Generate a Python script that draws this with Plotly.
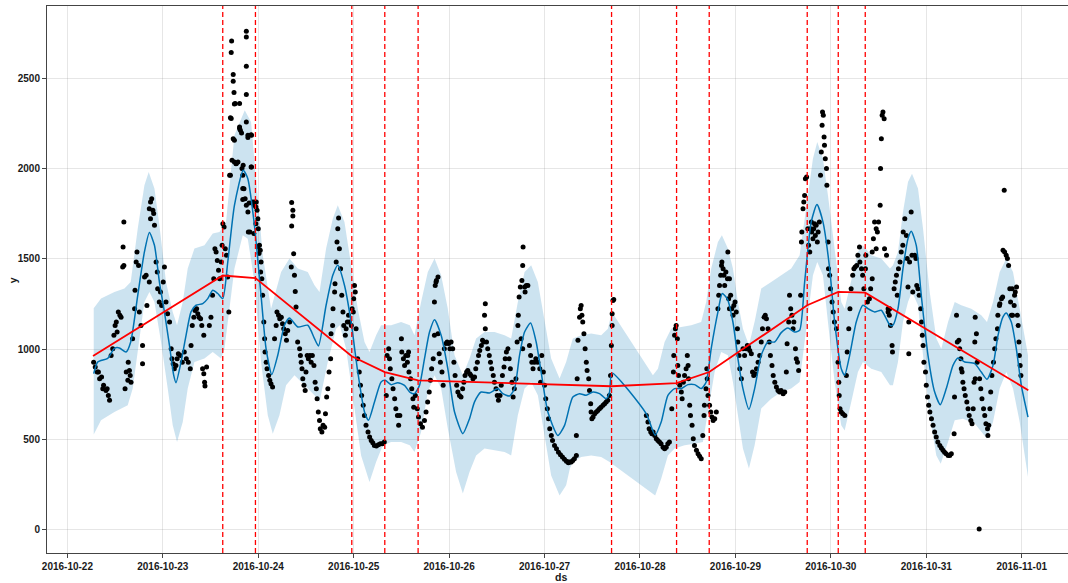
import pandas as pd
import plotly.graph_objects as go

BASE = pd.Timestamp("2016-10-22 00:00")

# ---- forecast (hours after 2016-10-22 00:00) ----
yhat_h = [6.62,7.62,10.14,11.82,13.08,14.74,15.92,17.69,19.37,20.63,
          21.89,23.14,24.40,25.66,26.74,27.32,28.58,29.84,31.09,32.35,
          34.04,35.30,36.55,37.81,39.07,40.33,42.01,44.23,45.36,47.04,
          48.70,49.96,51.40,52.90,54.59,55.85,57.94,60.45,62.14,63.14,
          65.06,66.74,68.00,69.68,71.34,73.03,74.72,75.72,77.23,78.89,
          79.90,81.41,83.09,84.78,86.11,87.29,88.55,89.81,91.07,92.33,
          93.99,95.67,97.36,99.45,101.13,102.39,104.05,106.16,108.25,109.51,
          111.19,112.45,113.71,114.97,116.48,117.89,119.14,120.83,123.35,125.03,
          126.36,127.12,128.80,130.46,132.15,133.83,135.49,136.35,136.93,145.56,
          147.82,149.33,151.02,152.70,154.36,156.05,157.73,159.39,160.65,161.91,
          163.60,164.68,165.94,167.37,168.63,169.89,171.40,172.83,174.49,176.17,
          177.86,179.52,181.20,182.89,184.15,185.41,187.07,188.50,190.01,191.70,
          192.95,194.61,195.47,196.73,198.39,200.07,201.33,203.02,204.68,205.93,
          206.87,207.62,208.88,210.14,211.40,212.23,213.48,214.74,216.43,218.11,
          219.52,221.03,222.72,223.97,225.66,228.17,229.83,231.27,232.78,234.04,
          235.29,236.12,237.38,238.64,239.90,241.58]
yhat = [863,928,948,1004,1006,983,1039,1298,1539,1647,
        1576,1372,1206,1021,854,813,928,1076,1206,1243,
        1252,1280,1326,1308,1280,1483,1798,1993,1947,1687,
        1298,1002,858,965,1132,1172,1122,1132,1058,1017,
        1243,1409,1465,1354,1150,872,650,604,706,817,
        826,802,813,798,761,752,798,947,1094,1163,
        1076,891,650,530,613,706,761,756,780,752,
        739,780,965,1094,1144,1039,872,650,520,576,
        687,733,752,743,761,752,724,761,867,641,
        521,594,743,780,780,802,802,780,817,1002,
        1206,1308,1280,1150,947,780,665,780,965,1039,
        1039,1091,1117,1094,1104,1372,1706,1802,1706,1447,
        1150,891,854,965,1150,1243,1224,1206,1215,1169,
        1132,1132,1224,1447,1613,1654,1576,1298,965,761,
        691,780,909,950,928,919,872,832,909,1076,
        1178,1200,1150,1002,798,622]

upper_h = [6.62,8.45,11.82,14.34,15.92,17.69,19.37,20.45,21.89,23.14,
           24.80,26.49,27.57,29.01,30.26,31.95,34.47,36.55,38.24,39.90,
           42.01,44.60,46.19,47.45,49.13,51.22,53.74,55.85,57.94,60.45,
           62.14,63.40,65.06,66.74,68.00,69.68,71.34,73.03,74.72,75.97,
           77.64,78.89,81.41,83.92,86.11,87.29,88.95,90.64,92.33,93.99,
           95.67,97.36,99.45,101.13,102.79,104.90,107.42,109.94,111.60,113.28,
           114.97,116.63,118.31,120.00,121.66,123.77,125.43,126.36,127.12,129.21,
           131.72,134.24,135.93,136.93,147.25,148.51,150.19,151.85,154.36,156.88,
           159.39,160.65,161.91,163.60,164.60,166.11,167.37,168.63,169.89,171.40,
           172.91,174.49,177.00,179.52,182.03,184.15,185.81,187.50,188.58,190.01,
           191.27,192.95,194.61,195.47,197.13,198.81,200.07,202.16,204.68,206.87,
           207.62,208.88,210.14,211.40,212.41,213.92,215.18,216.86,218.52,219.78,
           221.47,223.15,224.81,227.32,229.83,231.27,232.78,234.46,236.12,237.81,
           239.49,241.58]
upper = [1226,1280,1317,1336,1372,1669,1909,1983,1891,1687,
         1372,1206,1132,1261,1447,1558,1576,1641,1650,1706,
         2187,2326,2261,1947,1521,1224,1428,1502,1447,1428,
         1354,1317,1558,1724,1798,1706,1465,1224,1039,983,
         1076,1132,1132,1150,1132,1076,1261,1428,1502,1409,
         1224,965,854,947,1058,1094,1094,1076,1058,1261,
         1428,1465,1372,1150,947,836,928,1002,1058,1076,
         1086,1076,1113,1206,854,891,1039,1113,1122,1132,
         1150,1261,1447,1594,1632,1558,1447,1261,1113,1021,
         1159,1336,1372,1409,1447,1521,1798,2058,2150,2058,
         1854,1539,1261,1224,1372,1539,1576,1521,1502,1447,
         1465,1539,1761,1928,1974,1891,1669,1317,1058,1002,
         1150,1261,1243,1224,1187,1150,1261,1428,1502,1428,
         1224,965]

lower_h = [6.62,8.45,11.82,15.17,16.43,17.69,19.37,20.63,21.89,23.55,
           25.23,26.49,27.57,29.01,30.26,31.95,34.47,36.55,38.64,39.50,
           40.75,42.01,44.10,45.36,47.04,48.70,50.39,51.65,53.33,54.99,
           57.11,59.62,62.14,63.40,65.48,67.57,68.50,70.09,71.77,73.86,
           75.97,77.64,79.32,81.41,83.92,86.11,87.29,88.95,90.64,92.33,
           93.99,95.67,97.76,99.45,101.13,102.79,104.90,107.42,109.94,111.60,
           113.28,114.97,116.63,118.31,120.00,121.66,123.77,125.43,126.36,127.12,
           129.21,131.72,134.24,136.35,147.82,149.33,151.02,152.70,155.22,157.73,
           159.82,161.08,162.77,164.43,166.11,167.37,168.63,169.89,171.40,172.83,
           174.49,177.00,179.52,182.03,184.15,185.81,187.50,188.58,190.01,191.27,
           192.95,194.61,195.47,197.13,198.81,200.07,202.16,204.68,206.87,207.62,
           208.88,210.14,211.40,212.41,213.92,215.18,216.86,218.52,219.63,221.47,
           223.15,225.23,228.17,229.83,231.27,232.78,234.46,236.12,237.81,239.49,
           241.58]
lower = [525,604,650,687,780,1002,1261,1317,1261,1039,
         780,576,483,594,780,928,947,983,947,1002,
         1224,1447,1632,1613,1372,928,632,530,632,798,
         854,798,743,706,928,1113,1132,1002,743,409,
         261,372,465,483,483,465,428,539,761,854,
         780,558,317,197,317,409,447,437,428,409,
         632,780,817,743,521,298,187,243,336,372,
         400,409,400,372,187,280,409,447,465,474,
         483,650,872,983,965,817,632,447,336,465,
         669,724,761,780,817,1113,1409,1483,1409,1150,
         817,576,548,706,872,928,891,872,798,798,
         928,1150,1261,1317,1243,965,632,409,363,483,
         604,613,586,539,502,594,780,872,780,594,
         289]

# ---- trend and changepoints ----
trend_h = [6.44,39.07,47.29,71.52,79.82,88.20,136.85,153.20,161.41,186.06,193.86,200.65,241.66]
trend = [961,1408,1394,960,872,826,793,811,872,1243,1317,1313,771]
changepoint_h = [39.07,47.29,71.52,79.82,88.20,136.85,153.20,161.41,186.06,193.86,200.65]

# ---- observations ----
obs_h_a = [6.6,7.5,8.1,8.9,9.7,10.3,10.6,9.1,8.6,7.0,
           7.8,10.0,11.0,11.4,11.7,12.0,12.3,12.8,13.2,13.5,
           12.5,13.9,14.2,14.0,14.2,14.5,14.8,15.2,15.6,15.8,
           16.0,15.3,16.4,16.9,17.0,17.3,17.5,17.9,18.1,18.5,
           18.9,18.9,19.4,19.8,20.0,20.6,20.6,20.9,21.2,21.5,
           21.7,20.9,21.9,22.3,22.6,22.7,23.1,23.4,23.7,24.1,
           24.4,24.8,25.2,25.7,26.1,26.3,26.6,26.9,27.3,27.6,
           27.9,28.4,28.9,29.4,29.9,30.4,30.9,31.1,31.4,31.8,
           32.1,32.5,32.8,33.1,33.5,33.8,34.0,34.3,34.5,34.6,
           35.0,34.3,35.7,36.1,36.5,36.8,37.1,37.4,37.7,38.0,
           38.3,38.7,38.9,39.1,39.4,39.7,40.0,40.3,40.6,41.0,
           41.4,41.7,42.0,42.4,42.9,43.3,43.5,43.9,44.1,44.4,
           44.7,45.0,45.4,45.5,41.2,42.2,43.3]
obs_y_a = [927,872,835,779,770,742,715,798,844,900,
           872,779,964,1002,1076,1131,1150,1205,1187,1177,
           1094,1455,1464,1566,1705,779,872,826,881,853,
           816,927,1057,1224,1326,1483,1539,1464,1205,1131,
           1020,918,1400,1409,1242,1372,1779,1816,1835,1770,
           1752,1724,1687,1483,1427,1335,1261,1316,1242,1372,
           1455,1261,1196,1150,1002,946,918,890,909,946,
           974,964,927,983,946,927,890,1020,1131,1177,
           1214,1224,1196,1177,1168,1131,890,863,816,794,
           900,1076,1131,1177,1298,1390,1557,1539,1492,1437,
           1390,1483,1576,1696,1677,1557,1520,1400,1205,1965,
           2048,2168,2039,2029,2039,2233,2215,2002,1965,1890,
           1835,1798,1761,1650,2280,2363,2363]

obs_h_b = [41.3,41.2,41.7,41.7,41.9,42.0,45.0,45.0,45.0,45.0,
           45.0,41.0,42.0,45.4,46.3,43.3,43.8,42.5,44.2,46.3,
           40.8,44.1,44.1,45.7,47.1,47.4,45.9,46.9,47.4,47.9,
           48.2,48.6]
obs_y_b = [2711,2647,2524,2487,2424,2361,2765,2733,2571,2413,
           2261,2285,2160,2174,2187,2224,2200,2030,2021,2011,
           1965,1891,1830,1811,1817,1789,1650,1641,1696,1567,
           1530,1428]

obs_h_c = [45.4,46.2,46.2,46.6,47.0,47.5,47.7,47.9,48.0,48.3,
           48.5,48.7,48.9,49.1,49.4,49.6,49.7,50.0,50.2,50.6,
           50.9,51.2,51.6,52.1,52.5,52.7,53.1,53.4,53.8,54.1,
           54.4,54.8,55.1,55.4,55.9,56.4,56.7,56.7,56.4,56.9,
           56.3,57.1,57.3,57.5,57.9,58.4,58.6,58.8,59.0,59.2,
           59.5,59.8,60.0,60.3,60.6,61.0,61.3,61.6,62.0,62.3,
           62.6,62.8,63.1,63.4,63.6,64.0,64.3,64.7,64.9,65.2,
           65.5,65.8,66.2,66.3,66.7,66.8,67.2,67.3,67.6,67.8,
           68.0,68.2,68.4,68.7,69.0,69.3,69.5,69.9,70.1,70.4,
           70.7,70.9,71.4,71.6,72.0,72.2,72.4,71.9,72.6,73.0,
           73.4,73.7,74.0,74.4,74.7,75.1,75.6,76.0,76.4,76.8,
           77.2,77.7,78.2,78.7,79.2,79.7,80.2,80.4,80.8,81.0,
           81.2,81.6,81.9,82.3,82.6,83.0,83.3,83.6,84.0,84.1,
           84.5,84.8,85.1,85.5,85.8]
obs_y_c = [2187,2190,2011,1816,1798,1816,1770,1724,1668,1576,
           1548,1483,1390,1298,1150,1057,983,927,890,853,
           826,807,789,1057,1131,1205,1187,1168,1177,1140,
           1113,1085,1048,1103,1150,1813,1770,1739,1683,1529,
           1455,1409,1320,1233,1039,1002,964,927,890,835,
           798,770,872,964,946,964,927,964,909,816,
           779,724,650,603,557,539,576,566,640,733,
           779,872,946,1085,1131,1224,1316,1363,1483,1594,
           1668,1727,1557,1446,1298,1205,1131,1076,1113,1150,
           1187,1150,1131,1224,1279,1353,1316,1205,1113,946,
           872,798,742,687,631,576,539,511,492,479,
           464,461,468,474,474,483,742,964,1002,946,
           890,835,779,724,668,631,576,631,1057,983,
           946,909,964,927,983]

obs_h_d = [85.6,85.9,86.3,86.6,86.9,87.1,87.5,88.0,88.3,88.8,
           89.3,89.8,90.2,90.6,91.0,91.3,91.6,92.0,92.3,92.3,
           92.5,92.8,93.2,92.7,93.2,93.5,93.8,94.2,94.5,94.8,
           95.2,95.5,95.9,96.2,96.5,96.9,97.2,97.5,97.9,98.2,
           98.6,99.0,99.4,99.7,100.0,100.4,100.7,101.2,101.5,102.0,
           102.4,102.7,103.1,103.4,103.7,104.1,104.4,104.7,105.1,104.9,
           105.1,105.4,105.7,106.1,106.4,106.7,107.1,107.4,107.8,108.1,
           108.4,108.8,109.1,109.4,109.8,110.1,110.4,110.8,111.1,111.4,
           111.8,112.1,112.4,112.8,113.1,113.3,113.4,113.6,113.9,114.3,
           114.5,114.6,115.0,115.4,115.8,115.1,114.1,114.5,116.2,116.5,
           116.8,117.1,117.5,117.8,118.3,118.8,119.0,119.3,119.7,120.0,
           120.3,120.7,121.0,121.3,121.7,122.0,122.5,123.0,123.5,124.0,
           124.5,125.0,125.5,126.0]
obs_y_d = [964,872,835,779,724,677,742,668,622,585,
           566,603,650,705,761,826,890,946,1076,1261,
           1353,1381,1400,1372,1085,974,927,872,798,1002,
           1030,1039,1030,1002,1039,1002,927,853,798,761,
           742,733,779,816,853,872,881,863,853,835,
           844,890,927,964,992,1020,1048,1039,1113,1187,
           1251,1039,1002,964,927,890,853,816,779,742,
           715,742,798,853,900,946,983,1002,946,890,
           816,733,779,835,1039,1131,1187,1289,1344,1381,
           1464,1566,1344,1353,1353,1316,1057,1002,1020,964,
           927,890,927,946,927,890,816,964,872,798,
           724,668,613,557,520,492,464,446,427,413,
           400,387,376,368]

obs_h_e = [125.9,126.3,126.7,127.1,127.5,128.0,128.0,128.2,128.4,128.8,
           129.0,129.2,129.4,129.6,129.9,130.2,130.5,130.7,131.1,131.3,
           131.6,131.7,131.9,132.2,132.6,133.0,133.4,133.8,134.2,134.7,
           135.1,135.5,135.9,136.3,136.6,136.8,137.0,137.0,137.2,137.4,
           145.6,146.0,146.3,146.7,147.0,147.3,147.7,148.1,148.5,148.9,
           149.3,149.8,150.2,150.6,151.0,151.4,152.0,152.4,152.5,152.7,
           152.9,153.1,153.4,153.5,153.7,154.0,154.4,154.6,154.9,155.2,
           155.6,155.9,156.1,156.2,156.5,156.7,157.1,157.4,157.7,158.2,
           158.6,159.0,159.4,159.8,160.1,160.2,160.6,160.8,160.9,161.1,
           161.5,161.8,162.1,162.4,162.8,163.2,163.6,163.8,164.0,164.3,
           164.5,164.6,164.9,165.1,165.3,165.6,166.0,166.3,166.5]
obs_y_e = [372,372,372,381,390,409,520,835,1048,1177,
           1224,1242,1187,1150,1085,1002,927,881,835,770,
           696,650,613,622,640,650,659,668,677,687,
           696,705,715,742,853,1020,1131,1196,1270,1275,
           631,594,557,539,529,539,520,501,492,483,
           474,455,446,455,474,483,668,872,964,1076,
           1113,1131,1057,909,853,798,761,724,816,853,
           890,964,909,835,687,631,576,501,464,437,
           418,405,390,520,631,687,779,890,835,742,
           687,650,622,603,613,650,1224,1298,1353,1409,
           1464,1483,1446,1409,1353,1427,1390,1279,1224]

obs_h_f = [166.1,166.5,166.8,167.1,167.4,167.6,167.9,168.2,168.5,168.6,
           168.9,169.1,169.5,169.9,170.3,170.7,171.0,171.3,171.6,172.0,
           172.3,172.6,173.0,173.3,173.7,174.1,174.5,174.8,175.2,175.5,
           175.8,176.2,176.5,176.8,177.2,177.5,177.9,178.3,178.7,179.1,
           179.5,180.0,180.4,180.8,181.0,181.4,181.6,181.9,182.2,182.5,
           182.7,183.1,183.3,183.6,183.9,184.4,184.6,184.7,185.0,185.2,
           185.4,185.6,185.9,186.2,186.4,186.7,186.9,187.1,187.2,187.5,
           187.7,187.9,188.1,188.3,188.6,188.8,189.1,189.4,189.6,189.8,
           189.9,190.1,190.3,190.4,190.6,190.9,191.0,191.3,191.4,191.7,
           191.9,192.3,192.6,192.9,193.4,193.8,194.0,194.1,194.3,194.6,
           195.0,195.5,195.9,196.1,196.5,196.8,197.1,197.5,197.8,198.1,
           198.5,198.8,199.2,199.3,199.7,200.0,200.3,200.7,200.8,201.2,
           201.7,202.0,202.4,202.7,203.0,203.4,203.7,204.0,204.4,204.5,
           204.7,204.9,205.1,205.4,203.4,202.4,205.5,206.0,206.4,206.7]
obs_y_f = [1539,1390,1298,1224,1187,1242,1261,1205,1113,1039,
           964,890,835,1002,964,1002,1020,1011,992,974,
           872,853,863,890,927,964,1039,1113,1177,1187,
           1168,1113,1039,964,909,853,816,789,770,761,
           770,752,761,872,1029,1150,1298,1224,1187,1113,
           1150,1002,946,927,881,1298,1594,1650,1779,1816,
           1853,1946,1955,1668,1576,1539,1668,1705,1650,1613,
           1668,1696,1631,1687,1594,1650,1705,1965,2094,2242,
           2316,2298,2178,2131,2057,2002,1909,1594,1446,1409,
           1335,1261,1205,1150,1113,927,816,742,668,650,
           640,631,853,983,1113,1224,1335,1409,1446,1455,
           1464,1520,1566,1483,1446,1409,1335,1446,1520,1261,
           1279,1335,1390,1613,1705,1668,1650,1705,1798,2002,
           2168,2298,2316,2279,1557,1539,1557,1520,1224,1187]

obs_h_g = [206.4,206.8,207.0,207.4,207.5,207.9,208.2,208.5,208.7,209.0,
           209.4,209.7,210.1,210.2,210.6,211.0,211.2,211.4,211.6,211.8,
           212.2,212.4,212.6,213.1,213.4,213.6,213.9,214.2,214.6,214.8,
           215.0,215.2,215.4,215.8,216.0,216.3,216.6,216.9,217.3,217.7,
           218.1,218.5,218.9,219.4,219.8,220.2,220.6,221.0,221.5,221.9,
           222.3,211.6,223.1,223.0,223.6,223.8,224.2,224.4,224.7,224.8,
           225.0,225.2,225.5,225.8,226.2,226.5,226.8,227.2,227.5,227.8,
           228.2,228.3,228.6,228.8,228.0,228.3,229.4,229.7,230.0,230.4,
           230.7,231.0,231.4,231.5,231.7,232.0,232.2,232.5,232.9,233.2,
           233.5,233.9,234.0,234.4,234.5,234.9,235.2,235.6,235.3,235.7,
           236.1,236.4,236.7,237.0,237.2,237.4,237.7,238.1,238.4,238.7,
           238.9,239.1,239.3,239.4,239.6,239.8,238.2,237.6,229.3]
obs_y_g = [1205,1224,1131,1020,983,1335,1372,1409,1298,1446,
           1483,1539,1576,1650,1724,1631,1502,1344,1150,1483,
           1761,1520,1316,1520,1502,1353,1335,1298,1224,1150,
           1076,1020,927,872,798,733,687,650,613,576,
           539,511,483,464,450,437,427,418,409,409,
           418,974,733,529,1187,1039,1048,1002,946,890,
           872,816,779,742,705,668,631,603,585,668,
           1039,1177,1085,927,816,835,835,779,724,668,
           631,585,557,520,576,668,761,853,927,1002,
           1057,1113,1187,1242,1251,1279,1289,1881,1548,1539,
           1520,1502,1464,1335,1261,1187,1187,1242,1316,1344,
           1187,1131,1039,964,909,853,1298,1335,0]

obs_h = obs_h_a + obs_h_b + obs_h_c + obs_h_d + obs_h_e + obs_h_f + obs_h_g
obs_y = obs_y_a + obs_y_b + obs_y_c + obs_y_d + obs_y_e + obs_y_f + obs_y_g

day_ticks = ["2016-10-22", "2016-10-23", "2016-10-24", "2016-10-25", "2016-10-26",
             "2016-10-27", "2016-10-28", "2016-10-29", "2016-10-30", "2016-10-31",
             "2016-11-01"]
y_ticks = [0, 500, 1000, 1500, 2000, 2500]


def to_ds(hours):
    return [BASE + pd.Timedelta(hours=h) for h in hours]


FONT = "Liberation Sans, Arial, sans-serif"
BLUE = "#0072B2"

fig = go.Figure()

band_x = to_ds(upper_h) + to_ds(lower_h)[::-1]
band_y = upper + lower[::-1]
fig.add_trace(go.Scatter(x=band_x, y=band_y, fill="toself", mode="lines",
                         line=dict(width=0), fillcolor="rgba(0,114,178,0.2)",
                         hoverinfo="skip", showlegend=False))

fig.add_trace(go.Scatter(x=to_ds(obs_h), y=obs_y, mode="markers",
                         marker=dict(color="black", size=5, line=dict(width=0)),
                         showlegend=False))

fig.add_trace(go.Scatter(x=to_ds(yhat_h), y=yhat, mode="lines",
                         line=dict(color=BLUE, width=1.5, shape="spline", smoothing=0.6),
                         showlegend=False))

fig.add_trace(go.Scatter(x=to_ds(trend_h), y=trend, mode="lines",
                         line=dict(color="#ff0000", width=1.8), showlegend=False))

for cp in to_ds(changepoint_h):
    fig.add_shape(type="line", x0=cp, x1=cp, xref="x", yref="paper", y0=0, y1=1,
                  line=dict(color="#ff0000", width=1.3, dash="5px,3px"))

tickfont = dict(family=FONT, size=10, color="#1a1a1a", weight="bold")
titlefont = dict(family=FONT, size=10.5, color="#1a1a1a", weight="bold")

fig.update_layout(
    width=1068, height=583,
    margin=dict(l=47, r=0, t=6, b=30),
    paper_bgcolor="white", plot_bgcolor="white",
    showlegend=False,
    xaxis=dict(
        range=[BASE + pd.Timedelta(hours=-5.13), BASE + pd.Timedelta(hours=251.64)],
        tickvals=[pd.Timestamp(d) for d in day_ticks], ticktext=day_ticks,
        showgrid=True, gridcolor="rgba(128,128,128,0.2)", gridwidth=1,
        showline=True, linecolor="#444", linewidth=1, mirror=True,
        ticks="outside", ticklen=4, tickcolor="#444", tickfont=tickfont,
        zeroline=False,
    ),
    yaxis=dict(
        range=[-133, 2905],
        tickvals=y_ticks, ticktext=[str(v) for v in y_ticks],
        showgrid=True, gridcolor="rgba(128,128,128,0.2)", gridwidth=1,
        showline=True, linecolor="#444", linewidth=1,
        ticks="outside", ticklen=4, tickcolor="#444", tickfont=tickfont,
        zeroline=False,
    ),
    annotations=[
        dict(text="ds", xref="paper", yref="paper", x=0.503, y=-0.044,
             showarrow=False, font=titlefont,
             xanchor="center", yanchor="middle"),
        dict(text="y", xref="paper", yref="paper", x=-0.0333, y=0.4985, textangle=-90,
             showarrow=False, font=titlefont,
             xanchor="center", yanchor="middle"),
    ],
)

fig.write_html("out.html")
